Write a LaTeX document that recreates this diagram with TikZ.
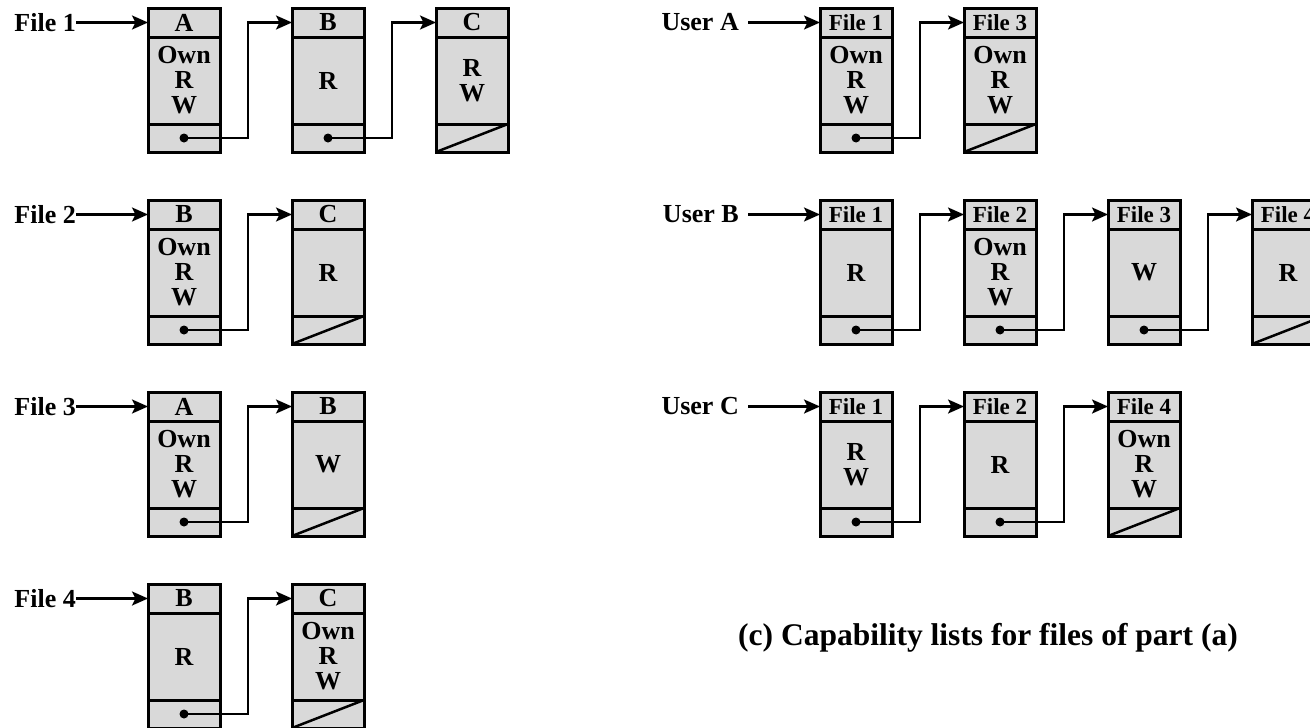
\documentclass[tikz,border=0pt]{standalone}
\usepackage{fontspec}
\setmainfont{Liberation Serif}
\usepackage{tikz}
\usetikzlibrary{arrows.meta}
\usetikzlibrary{positioning}
\usetikzlibrary{calc}

\definecolor{cellgray}{RGB}{217,217,217}

% one list element: name, x, y, header text, rights
\newcommand{\listbox}[5]{%
  \node [headcell] (#1-h) at (#2,#3) {#4};
  \node [bodycell, below=0pt of #1-h] (#1-b) {#5};
  \node [ptrcell, below=0pt of #1-b] (#1-p) {};
}
% pointer from one element to the next
\newcommand{\listlink}[2]{%
  \fill (#1-p.center) circle (4.5);
  \draw [link] (#1-p.center) -- ($(#1-p.east)+(28,0)$) |- (#2-h.west);
}
% null pointer
\newcommand{\listend}[1]{%
  \draw [line width=2.5pt] (#1-p.south west) -- (#1-p.north east);
}
\newcommand{\fh}{\fontsize{23}{23}\selectfont}

\begin{document}
\begin{tikzpicture}[x=1pt,y=-1pt]
\tikzstyle{cell}=[draw,fill=cellgray,line width=3pt,outer sep=0pt,inner sep=0pt,minimum width=72pt,font=\fontsize{26}{25}\selectfont\bfseries,align=center]
\tikzstyle{headcell}=[cell,minimum height=29pt,anchor=north west]
\tikzstyle{bodycell}=[cell,minimum height=87pt]
\tikzstyle{ptrcell}=[cell,minimum height=28pt]
\tikzstyle{link}=[line width=2.5pt,-{Stealth[length=16pt,width=14pt,inset=3.5pt]}]
\tikzstyle{lbl}=[inner sep=0pt,font=\fontsize{26}{26}\selectfont\bfseries]
\clip (0,0) rectangle (1310,728);

% access lists, one per file
\listbox{f1a}{148}{8}{A}{Own\\R\\W}
\listbox{f1b}{292}{8}{B}{R}
\listbox{f1c}{436}{8}{C}{R\\W}
\listbox{f2b}{148}{200}{B}{Own\\R\\W}
\listbox{f2c}{292}{200}{C}{R}
\listbox{f3a}{148}{392}{A}{Own\\R\\W}
\listbox{f3b}{292}{392}{B}{W}
\listbox{f4b}{148}{584}{B}{R}
\listbox{f4c}{292}{584}{C}{Own\\R\\W}

\node [lbl, left=72pt of f1a-h] (file1) {File 1};
\node [lbl, left=72pt of f2b-h] (file2) {File 2};
\node [lbl, left=72pt of f3a-h] (file3) {File 3};
\node [lbl, left=72pt of f4b-h] (file4) {File 4};
\draw [link] (file1.east) -- (f1a-h.west);
\draw [link] (file2.east) -- (f2b-h.west);
\draw [link] (file3.east) -- (f3a-h.west);
\draw [link] (file4.east) -- (f4b-h.west);

\listlink{f1a}{f1b}
\listlink{f1b}{f1c}
\listend{f1c}
\listlink{f2b}{f2c}
\listend{f2c}
\listlink{f3a}{f3b}
\listend{f3b}
\listlink{f4b}{f4c}
\listend{f4c}

% capability lists, one per user
\listbox{ua1}{820}{8}{\fh File 1}{Own\\R\\W}
\listbox{ua3}{964}{8}{\fh File 3}{Own\\R\\W}
\listbox{ub1}{820}{200}{\fh File 1}{R}
\listbox{ub2}{964}{200}{\fh File 2}{Own\\R\\W}
\listbox{ub3}{1108}{200}{\fh File 3}{W}
\listbox{ub4}{1252}{200}{\fh File 4}{R}
\listbox{uc1}{820}{392}{\fh File 1}{R\\W}
\listbox{uc2}{964}{392}{\fh File 2}{R}
\listbox{uc4}{1108}{392}{\fh File 4}{Own\\R\\W}

\node [lbl, left=81pt of ua1-h] (usera) {User A};
\node [lbl, left=81pt of ub1-h] (userb) {User B};
\node [lbl, left=81pt of uc1-h] (userc) {User C};
\draw [link, shorten <=9pt] (usera.east) -- (ua1-h.west);
\draw [link, shorten <=9pt] (userb.east) -- (ub1-h.west);
\draw [link, shorten <=9pt] (userc.east) -- (uc1-h.west);

\listlink{ua1}{ua3}
\listend{ua3}
\listlink{ub1}{ub2}
\listlink{ub2}{ub3}
\listlink{ub3}{ub4}
\listend{ub4}
\listlink{uc1}{uc2}
\listlink{uc2}{uc4}
\listend{uc4}

\node [font=\fontsize{31.5}{31.5}\selectfont\bfseries] (caption) at (988,638) {(c) Capability lists for files of part (a)};
\end{tikzpicture}
\end{document}
